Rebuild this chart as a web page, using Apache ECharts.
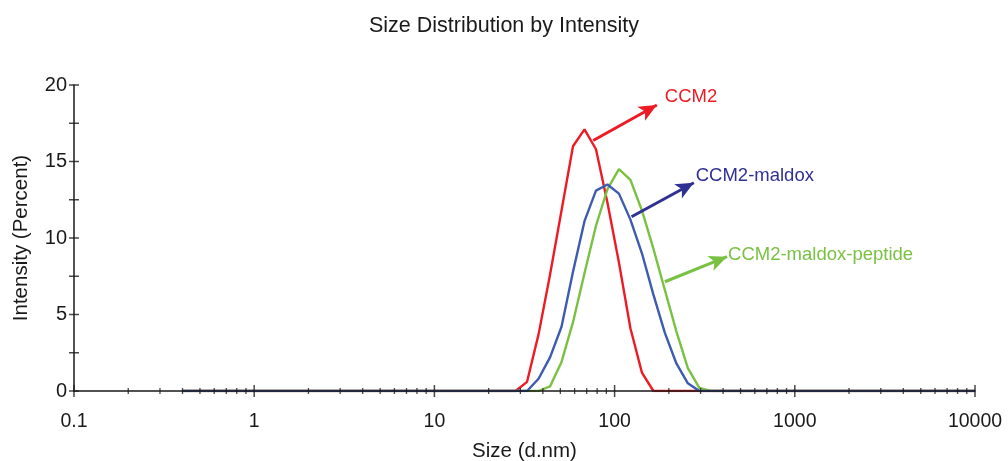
<!DOCTYPE html>
<html>
<head>
<meta charset="utf-8">
<script src="https://cdn.jsdelivr.net/npm/echarts@6/dist/echarts.min.js"></script>
<style>
html,body{margin:0;padding:0;background:#fff;}
#c{width:1008px;height:461px;}
</style>
</head>
<body>
<div id="c"></div>
<script>
// Size bins (d.nm)
const sizes = [
  0.4, 0.4632, 0.5365, 0.6213, 0.7195, 0.8332, 0.9649, 1.117, 1.294, 1.499,
  1.736, 2.010, 2.328, 2.696, 3.122, 3.615, 4.187, 4.849, 5.615, 6.503,
  7.531, 8.721, 10.10, 11.70, 13.54, 15.69, 18.17, 21.04, 24.36, 28.21,
  32.67, 37.84, 43.82, 50.75, 58.77, 68.06, 78.82, 91.28, 105.7, 122.4,
  141.8, 164.2, 190.1, 220.2, 255.0, 295.3, 342.0, 396.1, 458.7, 531.2,
  615.1, 712.4, 825.0, 955.4, 1106, 1281, 1484, 1718, 1990, 2305,
  2669, 3091, 3580, 4145, 4801, 5560, 6439, 7456, 8635, 10000
];
// Intensity (Percent)
const ccm2 = [
  0, 0, 0, 0, 0, 0, 0, 0, 0, 0,
  0, 0, 0, 0, 0, 0, 0, 0, 0, 0,
  0, 0, 0, 0, 0, 0, 0, 0, 0, 0,
  0.6, 3.7, 7.6, 11.8, 16.0, 17.1, 15.8, 12.3, 8.4, 4.1,
  1.2, 0, 0, 0, 0, 0, 0, 0, 0, 0,
  0, 0, 0, 0, 0, 0, 0, 0, 0, 0,
  0, 0, 0, 0, 0, 0, 0, 0, 0, 0
];
const ccm2Maldox = [
  0, 0, 0, 0, 0, 0, 0, 0, 0, 0,
  0, 0, 0, 0, 0, 0, 0, 0, 0, 0,
  0, 0, 0, 0, 0, 0, 0, 0, 0, 0,
  0, 0.8, 2.2, 4.2, 7.8, 11.1, 13.1, 13.5, 12.9, 11.2,
  9.0, 6.3, 3.8, 1.8, 0.5, 0, 0, 0, 0, 0,
  0, 0, 0, 0, 0, 0, 0, 0, 0, 0,
  0, 0, 0, 0, 0, 0, 0, 0, 0, 0
];
const ccm2MaldoxPeptide = [
  0, 0, 0, 0, 0, 0, 0, 0, 0, 0,
  0, 0, 0, 0, 0, 0, 0, 0, 0, 0,
  0, 0, 0, 0, 0, 0, 0, 0, 0, 0,
  0, 0, 0.3, 1.9, 4.5, 7.7, 10.8, 13.2, 14.5, 13.8,
  11.8, 9.3, 6.6, 3.9, 1.5, 0.2, 0, 0, 0, 0,
  0, 0, 0, 0, 0, 0, 0, 0, 0, 0,
  0, 0, 0, 0, 0, 0, 0, 0, 0, 0
];
// Axis ticks
const xTickLabels = ['0.1', '1', '10', '100', '1000', '10000'];
const xMajorTicks = [0.1, 1, 10, 100, 1000, 10000];
const xMinorTicks = [
  0.2, 0.3, 0.4, 0.5, 0.6, 0.7, 0.8, 0.9,
  2, 3, 4, 5, 6, 7, 8, 9,
  20, 30, 40, 50, 60, 70, 80, 90,
  200, 300, 400, 500, 600, 700, 800, 900,
  2000, 3000, 4000, 5000, 6000, 7000, 8000, 9000
];
const yMajorTicks = [0, 5, 10, 15, 20];
const yMinorTicks = [2.5, 7.5, 12.5, 17.5];

const FONT = 'Liberation Sans, Arial, Helvetica, sans-serif';
const RED = '#ed1c24', BLUE = '#3d5bb0', GREEN = '#7ac143', NAVY = '#2e3192';

// Annotations (data coordinates)
const annotations = [
  {name: 'CCM2', from: [76.1, 16.37], to: [171.6, 18.69], text: [190, 19.2], line: RED, color: RED},
  {name: 'CCM2-maldox', from: [124.2, 11.39], to: [275.2, 13.61], text: [282, 14.05], line: NAVY, color: NAVY},
  {name: 'CCM2-maldox-peptide', from: [190, 7.14], to: [421, 8.78], text: [426, 8.89], line: GREEN, color: GREEN}
];

function lineSeries(name, values, color, ann) {
  return {
    name: name,
    type: 'line',
    data: sizes.map((s, i) => [s, values[i]]),
    showSymbol: false,
    symbol: 'none',
    smooth: false,
    lineStyle: {color: color, width: 2.4},
    itemStyle: {color: color},
    z: 3,
    markLine: {
      silent: true,
      symbol: ['none', 'arrow'],
      symbolSize: [12, 18],
      label: {show: false},
      lineStyle: {color: ann.line, width: 3, type: 'solid'},
      data: [[{coord: ann.from}, {coord: ann.to}]],
      animation: false
    },
    markPoint: {
      silent: true,
      symbol: 'circle',
      symbolSize: 0,
      label: {
        show: true, position: 'right', distance: 0,
        formatter: ann.name, color: ann.color,
        fontSize: 18.5, fontFamily: FONT
      },
      data: [{coord: ann.text}],
      animation: false
    }
  };
}

function tickSeries(points, size) {
  return {
    type: 'scatter',
    data: points,
    symbol: 'rect',
    symbolSize: size,
    itemStyle: {color: '#1a1a1a'},
    silent: true,
    clip: false,
    z: 6,
    animation: false
  };
}

const chart = echarts.init(document.getElementById('c'), null, {renderer: 'canvas'});
chart.setOption({
  animation: false,
  backgroundColor: '#ffffff',
  title: {
    text: 'Size Distribution by Intensity',
    left: 'center', top: 10,
    textStyle: {fontFamily: FONT, fontSize: 21.5, fontWeight: 'normal', color: '#1a1a1a'}
  },
  grid: {left: 74, right: 33, top: 85, bottom: 70, containLabel: false, outerBoundsMode: 'none'},
  xAxis: {
    type: 'log', logBase: 10, min: 0.1, max: 10000,
    name: 'Size (d.nm)', nameLocation: 'middle', nameGap: 50,
    nameTextStyle: {fontFamily: FONT, fontSize: 20.5, color: '#1a1a1a'},
    axisLine: {show: true, onZero: false, lineStyle: {color: '#1a1a1a', width: 1.5}},
    axisTick: {show: false},
    splitLine: {show: false},
    z: 5,
    axisLabel: {
      fontFamily: FONT, fontSize: 19.5, color: '#1a1a1a', margin: 21,
      formatter: v => xTickLabels[Math.round(Math.log10(v)) + 1] || ''
    }
  },
  yAxis: {
    type: 'value', min: 0, max: 20, interval: 5,
    name: 'Intensity (Percent)', nameLocation: 'middle', nameGap: 42,
    nameTextStyle: {fontFamily: FONT, fontSize: 20.5, color: '#1a1a1a'},
    axisLine: {show: true, lineStyle: {color: '#1a1a1a', width: 1.5}},
    axisTick: {show: false},
    splitLine: {show: false},
    z: 5,
    axisLabel: {fontFamily: FONT, fontSize: 20, color: '#1a1a1a', margin: 7}
  },
  series: [
    lineSeries('CCM2', ccm2, RED, annotations[0]),
    lineSeries('CCM2-maldox-peptide', ccm2MaldoxPeptide, GREEN, annotations[2]),
    lineSeries('CCM2-maldox', ccm2Maldox, BLUE, annotations[1]),
    tickSeries(xMajorTicks.map(v => [v, 0]), [1.5, 12]),
    tickSeries(xMinorTicks.map(v => [v, 0]), [1.3, 6]),
    tickSeries(yMajorTicks.map(v => [0.1, v]), [10, 1.5]),
    tickSeries(yMinorTicks.map(v => [0.1, v]), [10, 1.5])
  ]
});
</script>
</body>
</html>
